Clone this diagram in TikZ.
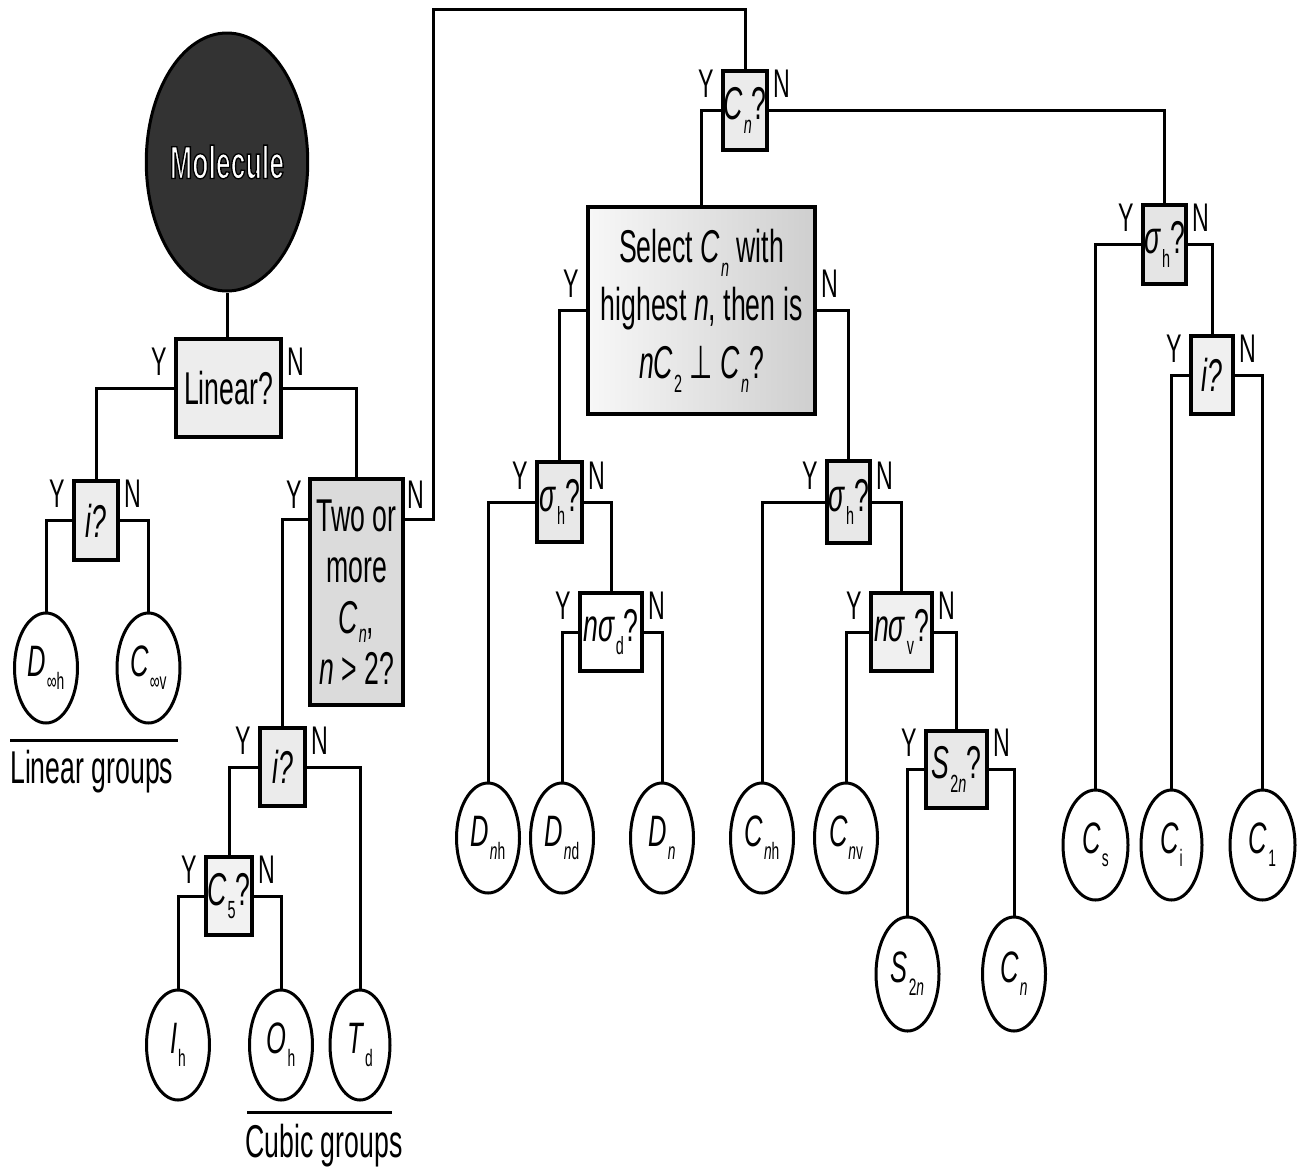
\documentclass[tikz,border=0pt]{standalone}
\usepackage{fontspec}
\setmainfont{Liberation Sans}[FakeStretch=0.58]
\newfontfamily\dvs{DejaVu Sans}[FakeStretch=0.58]
\usetikzlibrary{shapes.geometric,calc}
\newcommand\sbs[1]{\kern0.02em\raisebox{-0.3em}{\scalebox{0.54}{#1}}}
\newcommand\sbt[1]{\kern0.02em\raisebox{-0.2em}{\scalebox{0.54}{#1}}}
\newcommand\outlinetext[1]{\textcolor{white}{\special{pdf:literal direct 1 1 1 rg 0 0 0 RG 1.3 w 2 Tr}#1\special{pdf:literal direct 0 Tr}}}
\tikzset{
 conn/.style={line width=3pt},
 dec/.style={draw, line width=3.5pt, inner sep=0pt, fill=#1, align=center, font=\fontsize{46}{52}\selectfont},
 dec/.default=gray!14,
 grp/.style={ellipse, draw, line width=3pt, minimum width=63pt, minimum height=110pt, inner sep=0pt, font=\fontsize{44}{50}\selectfont},
 lab/.style={inner sep=0pt, font=\fontsize{40}{40}\selectfont},
 gtxt/.style={inner sep=0pt, font=\fontsize{46}{50}\selectfont, anchor=base west},
 uline/.style={line width=3pt},
}
\newcommand\yn[1]{%
 \node[lab,anchor=base east] (#1Y) at ($(#1.west)+(-7,-13)$) {Y};
 \node[lab,anchor=base west] (#1N) at ($(#1.east)+(5,-13)$) {N};}
\begin{document}
\begin{tikzpicture}[x=1pt,y=-1pt]
\useasboundingbox[fill=white] (0,0) rectangle (1305,1173);
% ---- nodes ----
\node[ellipse, draw, line width=3pt, fill=black!80, minimum width=140pt, minimum height=258pt, inner sep=0pt, font=\fontsize{46}{50}\selectfont\bfseries] (mol) at (227,162) {\outlinetext{Molecule}};
\node[dec, minimum width=105pt, minimum height=98pt] (lin) at (228.5,388) {Linear?};
\node[dec, minimum width=44pt, minimum height=79pt] (iL) at (96,520.5) {\textit{i?}};
\node[dec=gray!28, minimum width=93pt, minimum height=226pt, font=\fontsize{46}{51}\selectfont] (two) at (356.5,592) {Two or\\more\\\textit{C}\sbt{\textit{n}},\\\textit{n} > 2?};
\node[grp] (Dinfh) at (46,668) {\textit{D}\sbs{∞h}};
\node[grp] (Cinfv) at (148.5,668) {\textit{C}\sbs{∞v}};
\node[dec=gray!16, minimum width=45pt, minimum height=78pt] (iC) at (282.5,767) {\textit{i?}};
\node[dec=gray!10, minimum width=46pt, minimum height=78pt] (C5) at (229,896) {\textit{C}\sbs{5}?};
\node[grp] (Ih) at (178,1045) {\textit{I}\sbs{h}};
\node[grp] (Oh) at (281,1045) {\textit{O}\sbs{h}};
\node[grp, minimum width=60pt] (Td) at (360,1045) {\textit{T}\sbs{d}};
\node[dec=gray!16, minimum width=44pt, minimum height=79pt] (Cn) at (745,110.5) {\textit{C}\sbs{\textit{n}}?};
\node[dec, left color=gray!6, right color=gray!38, minimum width=227pt, minimum height=207pt, font=\fontsize{46}{58}\selectfont] (sel) at (701.5,310.5) {Select \textit{C}\sbs{\textit{n}} with\\highest \textit{n}, then is\\\textit{nC}\sbs{2}\,{\dvs ⊥}\,\textit{C}\sbs{\textit{n}}?};
\node[dec=gray!18, minimum width=45pt, minimum height=80pt] (sL) at (559.5,502) {\textit{σ}\sbs{h}?};
\node[dec=white, minimum width=62pt, minimum height=78pt] (nsd) at (611,632) {\textit{nσ}\sbs{d}?};
\node[grp] (Dnh) at (488,838) {\textit{D}\sbs{\textit{n}h}};
\node[grp] (Dnd) at (562,838) {\textit{D}\sbs{\textit{n}d}};
\node[grp] (Dn) at (662,838) {\textit{D}\sbs{\textit{n}}};
\node[dec=gray!18, minimum width=43pt, minimum height=82pt] (sR) at (848.5,502) {\textit{σ}\sbs{h}?};
\node[dec=gray!12, minimum width=61pt, minimum height=78pt] (nsv) at (901.5,632) {\textit{nσ}\sbs{v}?};
\node[grp] (Cnh) at (762,838) {\textit{C}\sbs{\textit{n}h}};
\node[grp] (Cnv) at (846,838) {\textit{C}\sbs{\textit{n}v}};
\node[dec=gray!18, minimum width=61pt, minimum height=77pt] (S2q) at (956.5,769.5) {\textit{S}\sbs{2\textit{n}}?};
\node[grp, minimum height=114pt] (S2n) at (907.5,974) {\textit{S}\sbs{2\textit{n}}};
\node[grp, minimum height=114pt] (Cne) at (1014,974) {\textit{C}\sbs{\textit{n}}};
\node[dec=gray!20, minimum width=43pt, minimum height=79pt] (sRR) at (1164.5,244.5) {\textit{σ}\sbs{h}?};
\node[dec=gray!12, minimum width=42pt, minimum height=78pt] (iR) at (1212,375) {\textit{i?}};
\node[grp, minimum width=65pt] (Cs) at (1095.5,845) {\textit{C}\sbs{s}};
\node[grp, minimum width=61pt] (Ci) at (1171.5,845) {\textit{C}\sbs{i}};
\node[grp, minimum width=65pt] (C1) at (1262.5,845) {\textit{C}\sbs{1}};
% ---- coordinates ----
\coordinate (twoL) at ($(two.north west)+(0,42)$);
\coordinate (twoR) at ($(two.north east)+(0,42)$);
\coordinate (t1) at (433,9);
\coordinate (lgA) at (10,740);
\coordinate (lgB) at (178,740);
\coordinate (cgA) at (247,1112);
\coordinate (cgB) at (392,1112);
% ---- connectors ----
\draw[conn] (mol.south) -- (mol.south |- lin.north);
\draw[conn] (lin.west) -| (iL.north);
\draw[conn] (lin.east) -| (two.north);
\draw[conn] (iL.west) -| (Dinfh.north);
\draw[conn] (iL.east) -| (Cinfv.north);
\draw[conn] (twoL) -| (iC.north);
\draw[conn] (twoR) -| (t1) -| (Cn.north);
\draw[conn] (iC.west) -| (C5.north);
\draw[conn] (iC.east) -| (Td.north);
\draw[conn] (C5.west) -| (Ih.north);
\draw[conn] (C5.east) -| (Oh.north);
\draw[conn] (Cn.west) -| (sel.north);
\draw[conn] (Cn.east) -| (sRR.north);
\draw[conn] (sel.west) -| (sL.north);
\draw[conn] (sel.east) -| (sR.north);
\draw[conn] (sL.west) -| (Dnh.north);
\draw[conn] (sL.east) -| (nsd.north);
\draw[conn] (nsd.west) -| (Dnd.north);
\draw[conn] (nsd.east) -| (Dn.north);
\draw[conn] (sR.west) -| (Cnh.north);
\draw[conn] (sR.east) -| (nsv.north);
\draw[conn] (nsv.west) -| (Cnv.north);
\draw[conn] (nsv.east) -| (S2q.north);
\draw[conn] (S2q.west) -| (S2n.north);
\draw[conn] (S2q.east) -| (Cne.north);
\draw[conn] (sRR.west) -| (Cs.north);
\draw[conn] (sRR.east) -| (iR.north);
\draw[conn] (iR.west) -| (Ci.north);
\draw[conn] (iR.east) -| (C1.north);
% ---- Y / N labels ----
\yn{lin}\yn{iL}\yn{iC}\yn{C5}\yn{Cn}\yn{sel}\yn{sL}\yn{nsd}\yn{sR}\yn{nsv}\yn{S2q}\yn{sRR}\yn{iR}
\node[lab,anchor=base east] (twoY) at ($(twoL)+(-6,-11)$) {Y};
\node[lab,anchor=base west] (twoN) at ($(twoR)+(3,-11)$) {N};
% ---- group captions ----
\draw[uline] (lgA) -- (lgB);
\draw[uline] (cgA) -- (cgB);
\node[gtxt] (lgt) at (10,783) {Linear groups};
\node[gtxt] (cgt) at (245,1157) {Cubic groups};
\end{tikzpicture}
\end{document}
